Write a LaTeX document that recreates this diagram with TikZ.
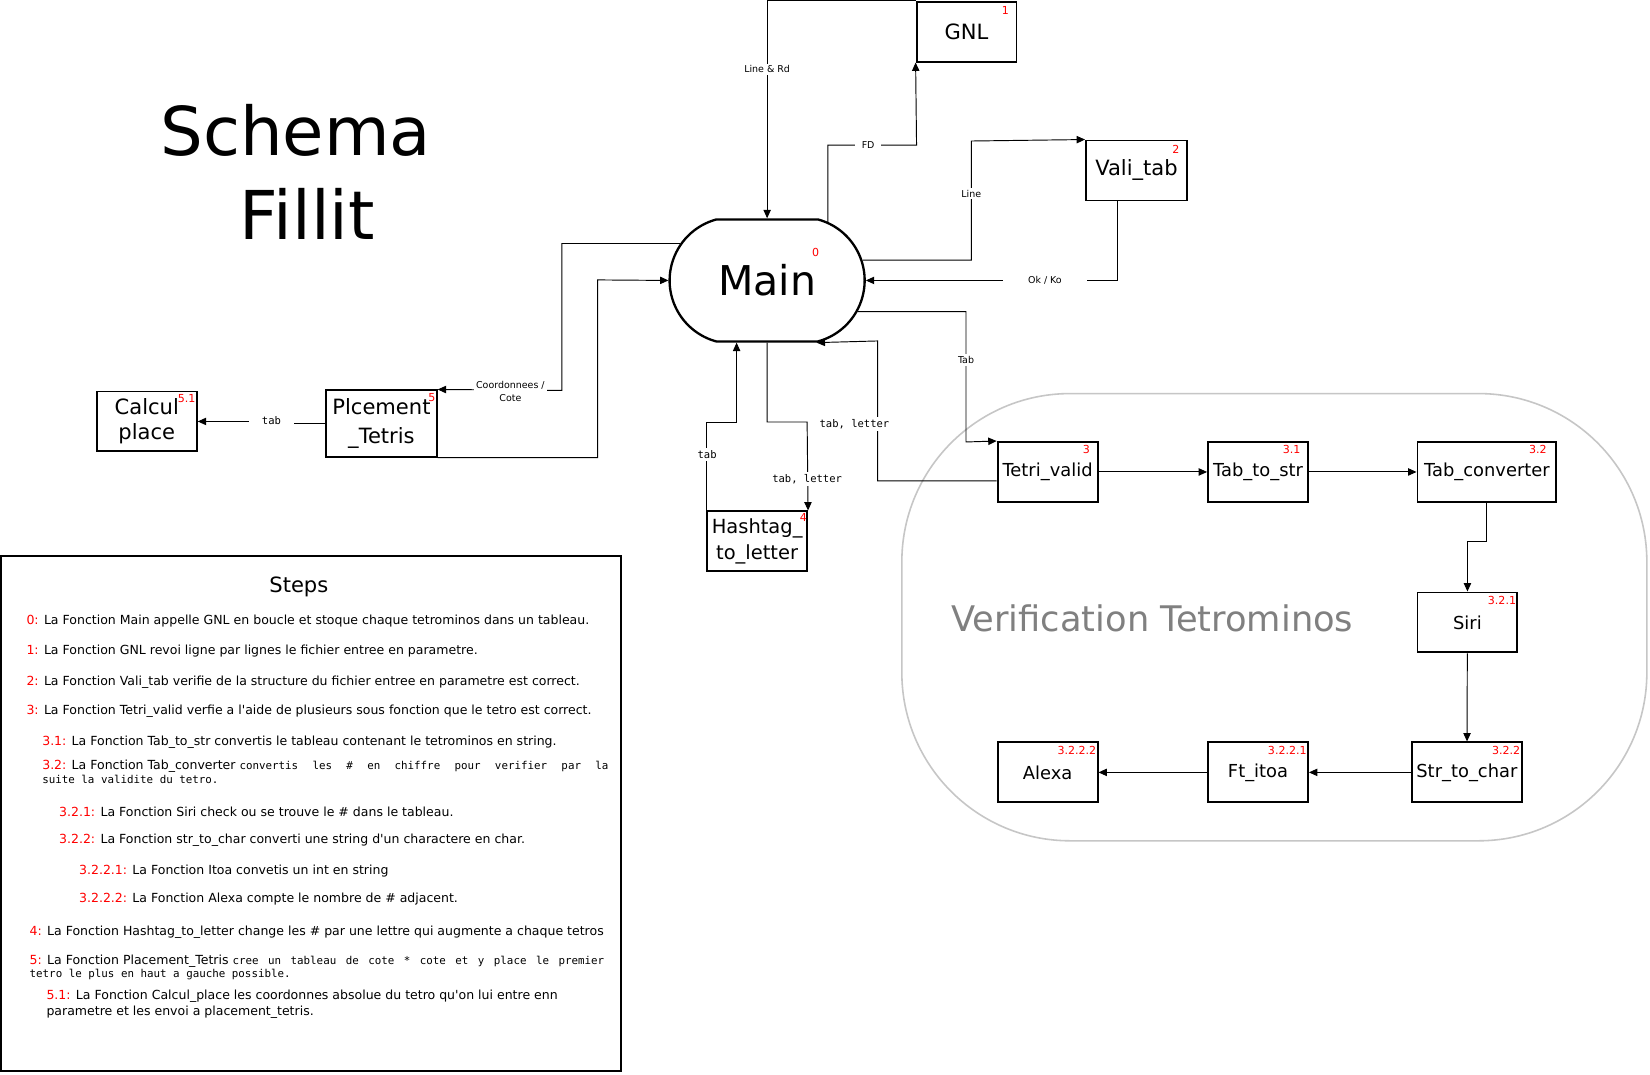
\documentclass[tikz,border=0pt]{standalone}
\usepackage{fontspec}
\setmainfont{DejaVu Sans}
\setmonofont{DejaVu Sans Mono}
\usepackage{xcolor}
\usepackage{tikz}
\usetikzlibrary{calc, shapes.misc, arrows.meta}

\newcommand{\codefont}{\ttfamily\fontsize{10.3}{13}\selectfont}
\newcommand{\rednum}[1]{\textcolor{red}{#1}}

\begin{document}
\begin{tikzpicture}[x=1pt, y=-1pt, >={Triangle[length=8pt, width=7pt]},
    fbox/.style={draw, fill=white, line width=1.8pt, minimum width=95pt, minimum height=57pt,
        inner sep=0pt, font=\fontsize{17}{19}\selectfont},
    bigbox/.style={fbox, align=center, font=\fontsize{20}{24}\selectfont},
    num/.style={anchor=north east, text=red, inner sep=2pt, font=\fontsize{10.5}{12}\selectfont},
    link/.style={->, line width=0.9pt},
    lbl/.style={fill=white, inner sep=2pt, font=\fontsize{9}{11}\selectfont},
    mlbl/.style={lbl, font=\ttfamily\fontsize{10}{12}\selectfont},
    stepline/.style={anchor=west, inner sep=0pt, font=\fontsize{11.9}{15}\selectfont},
    stepblock/.style={anchor=north west, inner sep=0pt, align=left, font=\fontsize{11.9}{15}\selectfont}]

    \path[use as bounding box, fill=white] (0,0) rectangle (1568,1021);

    % =================================================================
    % 1. TITRE ET CADRE DES TETROMINOS
    % =================================================================
    \node[anchor=base, font=\fontsize{64}{70}\selectfont] (schema) at (281,148) {Schema};
    \node[anchor=base, font=\fontsize{64}{70}\selectfont] (fillit) at (292,228) {Fillit};

    \draw[gray!45, line width=1.5pt, rounded corners=160pt] (857,374) rectangle (1565,799);
    \node[text=gray, font=\fontsize{33.5}{38}\selectfont] (verif) at (1095,588) {Verification Tetrominos};

    % =================================================================
    % 2. LES FONCTIONS
    % =================================================================
    \node[draw, fill=white, rounded rectangle, rounded rectangle arc length=150, line width=2.2pt,
        minimum width=192pt, minimum height=116pt, font=\fontsize{39}{44}\selectfont] (main) at (729,266.5) {Main};
    \node[fbox, font=\fontsize{20}{24}\selectfont] (gnl) at (918.5,30) {GNL};
    \node[fbox, minimum width=96pt, font=\fontsize{20}{24}\selectfont] (valitab) at (1080,162) {Vali\_tab};

    \node[fbox] (tetri) at (995.5,448.5) {Tetri\_valid};
    \node[fbox] (tabstr) at (1195.5,448.5) {Tab\_to\_str};
    \node[fbox, minimum width=132pt] (tabconv) at (1413,448.5) {Tab\_converter};
    \node[fbox] (siri) at (1394.5,591.5) {Siri};
    \node[fbox, minimum width=104pt] (strchar) at (1394,734) {Str\_to\_char};
    \node[fbox] (ftitoa) at (1195.5,734) {Ft\_itoa};
    \node[fbox] (alexa) at (995.5,734) {Alexa};

    \node[bigbox] (calcul) at (139.5,400.5) {Calcul\\place};
    \node[bigbox, minimum width=105pt, minimum height=63pt, font=\fontsize{20}{27}\selectfont] (plcement) at (362.5,402.5) {Plcement\\\_Tetris};
    \node[bigbox, font=\fontsize{18.5}{24}\selectfont] (hashtag) at (719.5,514.5) {Hashtag\_\\to\_letter};

    % numeros
    \node[num, anchor=center] (n0) at (775,240) {0};
    \node[num] (n1) at ($(gnl.north east)+(-6,3)$) {1};
    \node[num] (n2) at ($(valitab.north east)+(-6,3)$) {2};
    \node[num] (n3) at ($(tetri.north east)+(-6,2)$) {3};
    \node[num] (n31) at ($(tabstr.north east)+(-6,2)$) {3.1};
    \node[num] (n32) at ($(tabconv.north east)+(-8,2)$) {3.2};
    \node[num] (n321) at ($(siri.north east)+(0,2)$) {3.2.1};
    \node[num] (n322) at ($(strchar.north east)+(0,2)$) {3.2.2};
    \node[num] (n3221) at ($(ftitoa.north east)+(0,2)$) {3.2.2.1};
    \node[num] (n3222) at ($(alexa.north east)+(0,2)$) {3.2.2.2};
    \node[num, inner sep=1pt] (n4) at ($(hashtag.north east)+(0,2)$) {4};
    \node[num] (n5) at ($(plcement.north east)+(0,2)$) {5};
    \node[num] (n51) at ($(calcul.north east)+(0,2)$) {5.1};

    % =================================================================
    % 3. LES FLECHES
    % =================================================================
    \draw[link] (gnl.north west) -| (main.north);
    \draw[link] (main.44) |- (871,138) -- (gnl.south west);
    \draw[link] (main.12) -| (923,134) -- (valitab.north west);
    \draw[link] ($(valitab.south)+(-18,0)$) |- (main.east);
    \draw[link] (main.-19) -| (918,420) -- (tetri.north west);
    \draw[link] ($(tetri.west)+(0,8.5)$) -| (834,324) -- (main.south -| 776,0);
    \draw[link] (main.south) |- (767,401) -- (hashtag.north east);
    \draw[link] (hashtag.north west) |- (700,401) -- (main.south -| 700,0);
    \draw[link] (main.157) -| (534,371) -- (plcement.north east);
    \draw[link] (plcement.south east) -| (568,266) -- (main.west);
    \draw[link] (plcement.west) -| (258,401) |- (calcul.east);

    \draw[link] (tetri) -- (tabstr);
    \draw[link] (tabstr) -- (tabconv);
    \draw[link] (tabconv.south) -- ++(0,37) -| (siri.north);
    \draw[link] (siri) -- (strchar);
    \draw[link] (strchar) -- (ftitoa);
    \draw[link] (ftitoa) -- (alexa);

    % etiquettes
    \node[lbl] (lrd) at (729,66) {Line \& Rd};
    \node[lbl, inner xsep=6pt] (lfd) at (825,138) {FD};
    \node[lbl] (lline) at (923,184) {Line};
    \node[lbl, inner xsep=24pt] (lok) at (993,266) {Ok / Ko};
    \node[lbl] (ltab) at (918,342) {Tab};
    \node[mlbl] (ltl1) at (812,403) {tab, letter};
    \node[mlbl] (ltl2) at (767,455) {tab, letter};
    \node[mlbl] (ltab2) at (672,432) {tab};
    \node[lbl, align=center, font=\fontsize{9}{12}\selectfont] (lcoord) at (485,372) {Coordonnees /\\Cote};
    \node[mlbl, inner xsep=12pt] (ltab3) at (258,400) {tab};

    % =================================================================
    % 4. LES ETAPES
    % =================================================================
    \draw[line width=2pt] (1,528) rectangle (590,1018);
    \node[font=\fontsize{20}{24}\selectfont] (steps) at (284,558) {Steps};

    \node[stepline] (s0) at (25,590) {\rednum{0:} La Fonction Main appelle GNL en boucle et stoque chaque tetrominos dans un tableau.};
    \node[stepline] (s1) at (25,619) {\rednum{1:} La Fonction GNL revoi ligne par lignes le fichier entree en parametre.};
    \node[stepline] (s2) at (25,648) {\rednum{2:} La Fonction Vali\_tab verifie de la structure du fichier entree en parametre est correct.};
    \node[stepline] (s3) at (25,676) {\rednum{3:} La Fonction Tetri\_valid verfie a l\textquotesingle aide de plusieurs sous fonction que le tetro est correct.};
    \node[stepline] (s31) at (40,705) {\rednum{3.1:} La Fonction Tab\_to\_str convertis le tableau contenant le tetrominos en string.};
    \node[stepblock] (s32) at (40,722) {\hbox to 538pt{\rednum{3.2:} La Fonction Tab\_converter {\codefont\spaceskip=.6em plus 1fil\relax convertis les \# en chiffre pour verifier par la}}\\[-2pt]{\codefont suite la validite du tetro.}};
    \node[stepline] (s321) at (56,771) {\rednum{3.2.1:} La Fonction Siri check ou se trouve le \# dans le tableau.};
    \node[stepline] (s322) at (56,798) {\rednum{3.2.2:} La Fonction str\_to\_char converti une string d\textquotesingle un charactere en char.};
    \node[stepline] (s3221) at (75,828) {\rednum{3.2.2.1:} La Fonction Itoa convetis un int en string};
    \node[stepline] (s3222) at (75,854) {\rednum{3.2.2.2:} La Fonction Alexa compte le nombre de \# adjacent.};
    \node[stepline] (s4) at (28,886) {\rednum{4:} La Fonction Hashtag\_to\_letter change les \# par une lettre qui augmente a chaque tetros};
    \node[stepblock] (s5) at (28,907) {\hbox to 546pt{\rednum{5:} La Fonction Placement\_Tetris {\codefont\spaceskip=.6em plus 1fil\relax cree un tableau de cote * cote et y place le premier}}\\[-2pt]{\codefont tetro le plus en haut a gauche possible.}};
    \node[stepblock] (s51) at (44,941) {\rednum{5.1:} La Fonction Calcul\_place les coordonnes absolue du tetro qu\textquotesingle on lui entre enn\\parametre et les envoi a placement\_tetris.};

\end{tikzpicture}
\end{document}
